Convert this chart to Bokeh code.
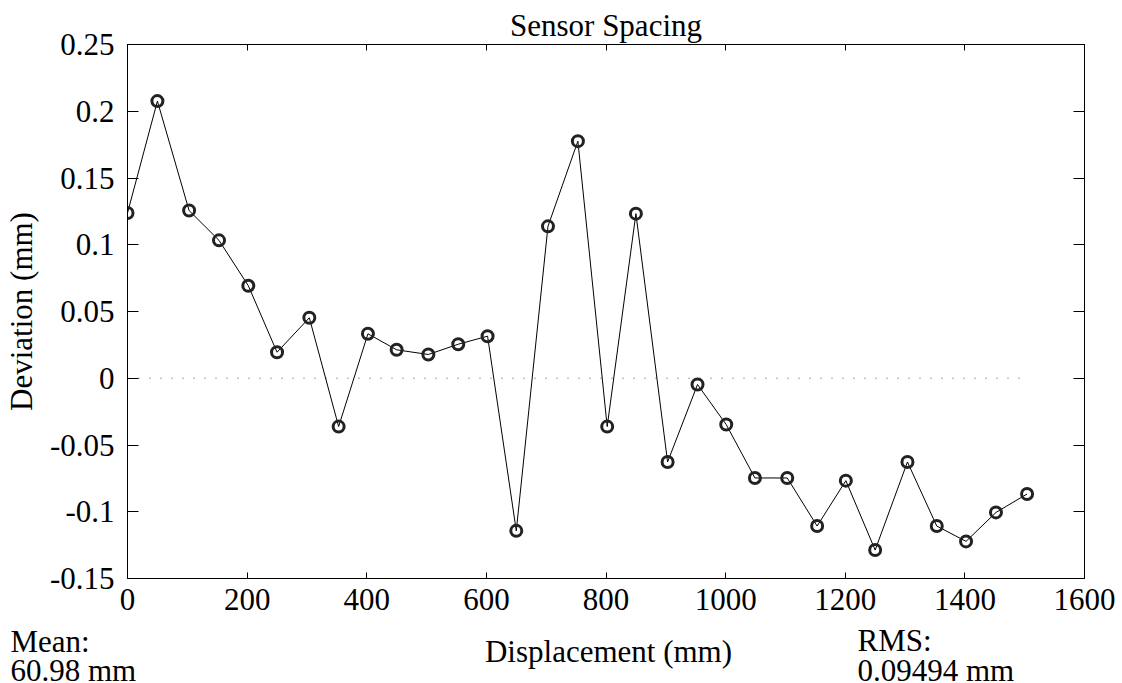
from bokeh.plotting import figure
from bokeh.layouts import column
from bokeh.models import (FixedTicker, CustomJSTickFormatter, LinearAxis, Range1d, ColumnDataSource)
from bokeh.core.properties import value
from bokeh.embed import file_html
from bokeh.resources import INLINE

# ---- data ----
displacement = [0, 50, 103, 153, 202, 250, 304, 353, 402, 450, 503, 553, 602, 650, 703, 753,
                802, 850, 903, 953, 1001, 1049, 1103, 1153, 1201, 1250, 1304, 1353, 1402, 1452, 1504]
deviation = [0.1238, 0.2076, 0.1256, 0.1033, 0.0693, 0.0195, 0.0453, -0.0362, 0.0333, 0.0213,
             0.0178, 0.0255, 0.0315, -0.1143, 0.1138, 0.1776, -0.0362, 0.1233, -0.0627, -0.0047,
             -0.0347, -0.0747, -0.0747, -0.1107, -0.0767, -0.1287, -0.0627, -0.1107, -0.1222,
             -0.1005, -0.0867]
x_ticks = [0, 200, 400, 600, 800, 1000, 1200, 1400, 1600]
y_ticks = [-0.15, -0.1, -0.05, 0, 0.05, 0.1, 0.15, 0.2, 0.25]
title_text = "Sensor Spacing"
x_label = "Displacement (mm)"
y_label = "Deviation (mm)"
mean_text = ["Mean:", "60.98 mm"]
rms_text = ["RMS:", "0.09494 mm"]

FONT = "Liberation Serif"
FS = "31px"
W, H_MAIN, H_FOOT = 1122, 620, 63

p = figure(width=W, height=H_MAIN, output_backend="svg", toolbar_location=None,
           x_range=Range1d(0, 1600), y_range=Range1d(-0.15, 0.25),
           x_axis_location=None, y_axis_location=None,
           min_border_left=124, min_border_right=38, min_border_top=44, min_border_bottom=42)
p.frame_align = False
p.background_fill_color = "white"
p.border_fill_color = "white"
p.outline_line_color = "black"
p.outline_line_width = 1
p.grid.visible = False

fmt = CustomJSTickFormatter(code="return String(Math.round(tick*1000)/1000);")
blank = CustomJSTickFormatter(code="return '';")

def make_axis(cls_kwargs, ticks, tick_len, show_labels):
    ax = LinearAxis(ticker=FixedTicker(ticks=ticks), formatter=fmt if show_labels else blank,
                    **cls_kwargs)
    ax.axis_line_color = "black"
    ax.major_tick_in = tick_len
    ax.major_tick_out = 0
    ax.major_tick_line_color = "black"
    ax.minor_tick_line_color = None
    ax.major_label_text_font = FONT
    ax.major_label_text_font_size = FS
    ax.major_label_text_color = "black"
    ax.axis_label_text_font = FONT
    ax.axis_label_text_font_size = FS
    ax.axis_label_text_font_style = "normal"
    ax.axis_label_text_color = "black"
    if not show_labels:
        ax.major_label_standoff = 0
    return ax

xb = make_axis({}, x_ticks, 6, True)
xb.major_label_standoff = 10
yl = make_axis(dict(axis_label=y_label), y_ticks, 11, True)
yl.major_label_standoff = 13
yl.axis_label_standoff = 8
xt = make_axis({}, x_ticks, 6, False)
yr = make_axis({}, y_ticks, 11, False)
p.add_layout(xb, "below")
p.add_layout(yl, "left")
p.add_layout(xt, "above")
p.add_layout(yr, "right")

p.title.text = title_text
p.title.text_font = FONT
p.title.text_font_size = FS
p.title.text_font_style = "normal"
p.title.text_color = "black"
p.title.align = "center"
p.title.standoff = 4

# zero reference line across data extent
p.line([min(displacement), max(displacement)], [0, 0], line_color="#8a8a8a",
       line_width=1.5, line_dash="1 10")

src = ColumnDataSource(dict(x=displacement, y=deviation))
p.line("x", "y", source=src, line_color="black", line_width=1)
p.scatter("x", "y", source=src, marker="circle", size=11, fill_color=None,
          line_color="#222222", line_width=3)

# ---- footer strip (pixel coordinates) with x-axis title and statistics ----
f = figure(width=W, height=H_FOOT, output_backend="svg", toolbar_location=None, title=None,
           x_range=Range1d(0, W), y_range=Range1d(H_FOOT, 0),
           x_axis_location=None, y_axis_location=None,
           min_border_left=0, min_border_right=0, min_border_top=0, min_border_bottom=0)
f.frame_align = False
f.outline_line_color = None
f.grid.visible = False
f.background_fill_color = "white"
f.border_fill_color = "white"

foot_src = ColumnDataSource(dict(
    x=[10, 10, 857, 857],
    y=[21, 50, 20, 50],
    t=[mean_text[0], mean_text[1], rms_text[0], rms_text[1]],
))
f.text(x="x", y="y", text="t", source=foot_src, text_font=value(FONT),
       text_font_size=value(FS), text_color="black", text_baseline="alphabetic",
       text_align="left")
f.text(x=[608], y=[31], text=[x_label], text_font=value(FONT), text_font_size=value(FS),
       text_color="black", text_baseline="alphabetic", text_align="center")

layout = column(p, f, spacing=0)
open("out.html", "w").write(file_html(layout, INLINE))
